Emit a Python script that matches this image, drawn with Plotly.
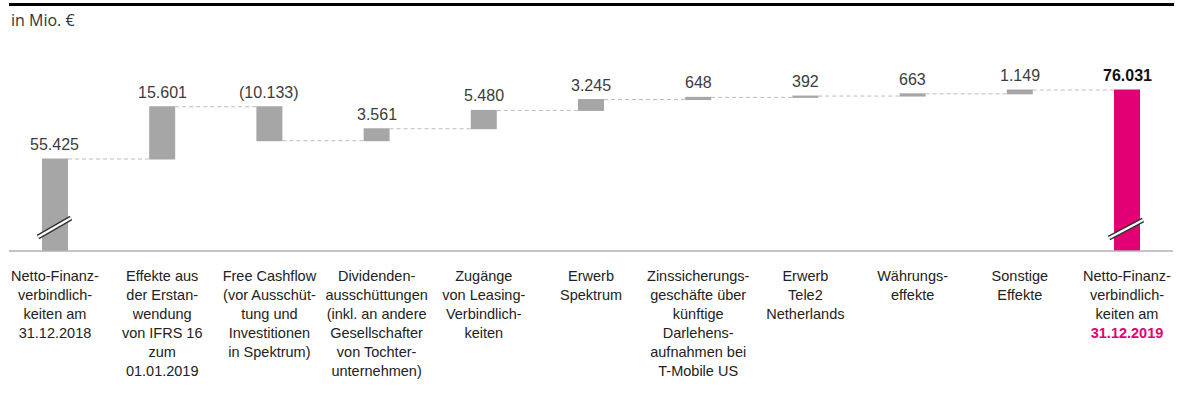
import plotly.graph_objects as go

categories = [
    "Netto-Finanz-<br>verbindlich-<br>keiten am<br>31.12.2018",
    "Effekte aus<br>der Erstan-<br>wendung<br>von IFRS 16<br>zum<br>01.01.2019",
    "Free Cashflow<br>(vor Ausschüt-<br>tung und<br>Investitionen<br>in Spektrum)",
    "Dividenden-<br>ausschüttungen<br>(inkl. an andere<br>Gesellschafter<br>von Tochter-<br>unternehmen)",
    "Zugänge<br>von Leasing-<br>Verbindlich-<br>keiten",
    "Erwerb<br>Spektrum",
    "Zinssicherungs-<br>geschäfte über<br>künftige<br>Darlehens-<br>aufnahmen bei<br>T-Mobile US",
    "Erwerb<br>Tele2<br>Netherlands",
    "Währungs-<br>effekte",
    "Sonstige<br>Effekte",
    "Netto-Finanz-<br>verbindlich-<br>keiten am<br><b><span style='color:#e20074'>31.12.2019</span></b>",
]
values = [55425, 15601, -10133, 3561, 5480, 3245, 648, 392, 663, 1149, 76031]
measures = ["relative"] * 10 + ["total"]
value_labels = ["55.425", "15.601", "(10.133)", "3.561", "5.480", "3.245",
                "648", "392", "663", "1.149", "<b>76.031</b>"]

GREY = "#a6a6a6"
MAGENTA = "#e20074"
TXT = "#3c3c3c"
FONT = "Liberation Sans, Arial, sans-serif"

x_idx = list(range(len(categories)))

fig = go.Figure()
fig.add_trace(go.Waterfall(
    x=x_idx,
    y=values,
    measure=measures,
    base=0,
    width=0.2425,
    increasing=dict(marker=dict(color=GREY)),
    decreasing=dict(marker=dict(color=GREY)),
    totals=dict(marker=dict(color=MAGENTA)),
    connector=dict(mode="between", line=dict(color="#bdbdbd", width=1, dash="4px,3px")),
    textinfo="none",
    hoverinfo="skip",
))

# value labels above each bar
cum = 0
for i, (v, m, lab) in enumerate(zip(values, measures, value_labels)):
    if m == "total":
        top = cum
    else:
        top = max(cum, cum + v)
        cum += v
    fig.add_annotation(
        x=i, y=top, xref="x", yref="y", text=lab, showarrow=False,
        yanchor="bottom", yshift=4,
        font=dict(family=FONT, size=16,
                  color="#111111" if m == "total" else TXT),
    )

plot_h = 414 - 40 - 163

def py(pix):
    return (251 - pix) / plot_h

shapes = []
# top black rule
shapes.append(dict(type="line", xref="paper", yref="paper", x0=0, x1=1.0009,
                   y0=py(4.5), y1=py(4.5), line=dict(color="black", width=3)))
# axis break marks
for xi, dx0, dx1, yp0, yp1 in [(0, -17, 16, 237, 218), (10, -18, 16, 238, 220)]:
    for col, w in [("#333333", 5), ("white", 2.2)]:
        shapes.append(dict(type="line", xref="x", xsizemode="pixel", xanchor=xi,
                           x0=dx0, x1=dx1, yref="paper", y0=py(yp0), y1=py(yp1),
                           line=dict(color=col, width=w)))
# baseline
shapes.append(dict(type="line", xref="paper", yref="paper", x0=0, x1=1,
                   y0=0, y1=0, line=dict(color="#b0b0b0", width=1.5)))

fig.add_annotation(xref="paper", yref="paper", x=0, y=py(20), xanchor="left",
                   yanchor="middle", text="in Mio. €", showarrow=False,
                   font=dict(family="Open Sans, Noto Sans, sans-serif", size=16, color="#333333"))

fig.update_layout(
    width=1177, height=414,
    margin=dict(l=9, r=4, t=40, b=163),
    paper_bgcolor="white", plot_bgcolor="white",
    showlegend=False,
    shapes=shapes,
    xaxis=dict(
        range=[-0.429, 10.429],
        tickmode="array", tickvals=x_idx, ticktext=categories,
        showgrid=False, zeroline=False, showline=False,
        ticks="outside", ticklen=12, tickcolor="rgba(0,0,0,0)",
        tickfont=dict(family=FONT, size=14.5, color="#222222"),
        fixedrange=True,
    ),
    yaxis=dict(
        range=[27954, 27954 + 298.6 * plot_h],
        visible=False, fixedrange=True,
    ),
)

fig.write_html("out.html", config={"displayModeBar": False},
               post_script="document.body.style.margin='0';document.body.style.overflow='hidden';")
